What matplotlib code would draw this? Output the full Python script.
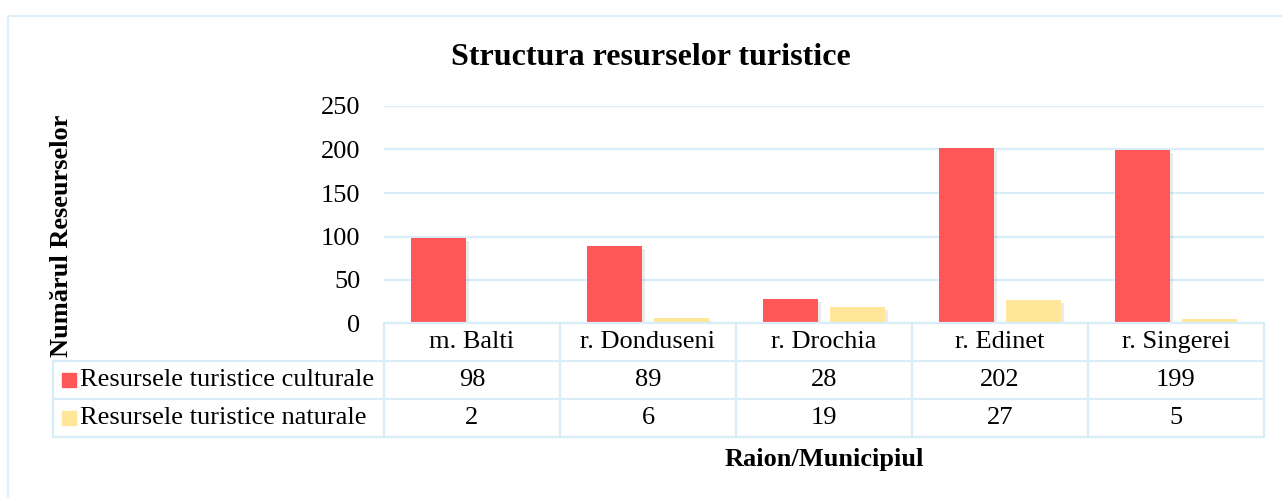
#import modules
import matplotlib.pyplot as plt
import matplotlib.patheffects as pe
import numpy as np

#chart data
categories = ["m. Balti", "r. Donduseni", "r. Drochia", "r. Edinet", "r. Singerei"]
series_names = ["Resursele turistice culturale", "Resursele turistice naturale"]
culturale = [98, 89, 28, 202, 199]
naturale = [2, 6, 19, 27, 5]
y_ticks = [0, 50, 100, 150, 200, 250]

colors = ["#FF5757", "#FFE699"]
grid_color = "#D7EEF9"

W, H = 1282, 498
plt.rcParams["font.family"] = ["Liberation Serif", "DejaVu Serif"]

fig = plt.figure(figsize=(W / 100, H / 100), dpi=100)

#plot area in pixel units of the reference
px_left, px_right = 384, 1264
px_top, px_zero = 106, 323.5
ax = fig.add_axes([px_left / W, 1 - px_zero / H,
                   (px_right - px_left) / W, (px_zero - px_top) / H])

x = np.arange(len(categories))
shadow = [pe.SimplePatchShadow(offset=(2, -2), shadow_rgbFace="#000000", alpha=0.08), pe.Normal()]
for vals, col, off in [(culturale, colors[0], -0.19), (naturale, colors[1], 0.19)]:
    ax.bar(x + off, vals, width=0.3125, color=col, zorder=3, path_effects=shadow)

fs = 19
ax.set_xlim(-0.5, len(categories) - 0.5)
ax.set_ylim(0, 250)
ax.set_yticks(y_ticks)
ax.set_yticklabels([str(t) for t in y_ticks], fontsize=fs)
ax.tick_params(axis="y", length=0, pad=17)
ax.set_xticks([])
ax.grid(axis="y", color=grid_color, linewidth=1.6, zorder=0)
for s in ax.spines.values():
    s.set_visible(False)

#overlay in pixel coordinates for the frame and data table
lay = fig.add_axes([0, 0, 1, 1], zorder=5)
lay.set_xlim(0, W)
lay.set_ylim(H, 0)
lay.axis("off")
lay.patch.set_alpha(0)

lw = 1.6
#outer chart frame
lay.plot([8, 8, W + 5], [H + 5, 16, 16], color="#DDF0FA", lw=1.6, solid_capstyle="butt")

row_y = [323, 361, 399, 437]
col_w = (px_right - px_left) / len(categories)
col_x = [px_left + i * col_w for i in range(len(categories) + 1)]
legend_left = 53

lay.plot([px_left, px_right], [row_y[0], row_y[0]], color=grid_color, lw=lw)
for yy in row_y[1:]:
    lay.plot([legend_left, px_right], [yy, yy], color=grid_color, lw=lw)
lay.plot([legend_left, legend_left], [row_y[1], row_y[3]], color=grid_color, lw=lw)
for xx in col_x:
    lay.plot([xx, xx], [row_y[0], row_y[3]], color=grid_color, lw=lw)

for i, cat in enumerate(categories):
    cx = (col_x[i] + col_x[i + 1]) / 2
    lay.text(cx, (row_y[0] + row_y[1]) / 2, cat, ha="center", va="center", fontsize=fs)
    lay.text(cx, (row_y[1] + row_y[2]) / 2, str(culturale[i]), ha="center", va="center", fontsize=fs)
    lay.text(cx, (row_y[2] + row_y[3]) / 2, str(naturale[i]), ha="center", va="center", fontsize=fs)

for r, (name, col) in enumerate(zip(series_names, colors)):
    cy = (row_y[r + 1] + row_y[r + 2]) / 2
    lay.add_patch(plt.Rectangle((62, cy - 7), 14, 14, color=col))
    lay.text(80, cy, name, ha="left", va="center", fontsize=fs)

#titles
lay.text(651, 57, "Structura resurselor turistice", ha="center", va="center",
         fontsize=23, fontweight="bold")
lay.text(61, 236, "Numărul Reseurselor", ha="center", va="center", rotation=90,
         fontsize=19, fontweight="bold")
lay.text((px_left + px_right) / 2, 459, "Raion/Municipiul", ha="center", va="center",
         fontsize=19, fontweight="bold")

fig.savefig("out.png", dpi=100, facecolor="white")
